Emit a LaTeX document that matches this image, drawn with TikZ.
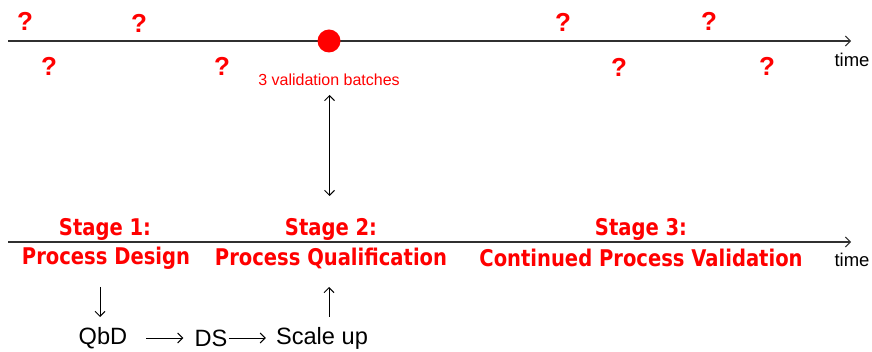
\documentclass[tikz,border=0pt]{standalone}
\usepackage{fontspec}
\setmainfont{Liberation Sans}
\newfontfamily\stagefont{DejaVu Sans}[FakeStretch=0.85]
\usetikzlibrary{arrows.meta}
\definecolor{axisgray}{HTML}{303030}
\tikzset{
  barb/.tip={Straight Barb[length=5pt,width=10pt,line width=1pt]},
  axis/.style={draw=axisgray, line width=1.4pt, -barb},
  flow/.style={draw=black, line width=1pt, -barb},
  unknown/.style={text=red, font=\fontsize{26}{26}\selectfont\bfseries, inner sep=0pt},
  stagelabel/.style={text=red, font=\stagefont\fontsize{23}{23}\selectfont\bfseries, inner sep=0pt},
  plain/.style={font=\fontsize{23.6}{24}\selectfont, inner sep=0pt},
  timelabel/.style={font=\fontsize{18.5}{19}\selectfont, inner sep=0pt},
}
\begin{document}
\begin{tikzpicture}[x=1pt,y=-1pt]
\useasboundingbox (0,0) rectangle (872,352);

% upper timeline with unknown sampling points
\coordinate (t0) at (8,41);
\coordinate (t1) at (851,41);
\draw[axis] (t0) -- (t1);
\node[timelabel] (time1) at (852,60) {time};
\fill[red] (329,41) circle (11.5) coordinate (batch);
\node[text=red, font=\fontsize{16}{16}\selectfont, inner sep=0pt] (batches) at (329,80) {3 validation batches};

\node[unknown] (q1) at (25,21) {?};
\node[unknown] (q2) at (139,23) {?};
\node[unknown] (q3) at (49,66) {?};
\node[unknown] (q4) at (222,66) {?};
\node[unknown] (q5) at (563,22) {?};
\node[unknown] (q6) at (709,21) {?};
\node[unknown] (q7) at (619,67) {?};
\node[unknown] (q8) at (767,66) {?};

% lower timeline with the three stages
\coordinate (s0) at (8,242);
\coordinate (s1) at (851,242);
\draw[axis] (s0) -- (s1);
\node[timelabel] (time2) at (852,260) {time};

\node[stagelabel] (st1) at (105,229) {Stage 1:};
\node[stagelabel] (pd) at (106,258) {Process Design};
\node[stagelabel] (st2) at (331,229) {Stage 2:};
\node[stagelabel] (pq) at (331,258) {Process Qualification};
\node[stagelabel] (st3) at (641,229) {Stage 3:};
\node[stagelabel] (cpv) at (641,258) {Continued Process Validation};

% link between the batches and stage 2
\coordinate (lnkA) at (329.5,95);
\coordinate (lnkB) at (329.5,196);
\draw[flow, barb-barb] (lnkA) -- (lnkB);

% development chain
\node[plain] (qbd) at (103,338) {QbD};
\node[plain] (ds) at (211,338) {DS};
\node[plain] (scale) at (322,338) {Scale up};
\coordinate (dnA) at (100,287);
\coordinate (dnB) at (100,317);
\coordinate (upA) at (329,317);
\coordinate (upB) at (329,287);
\draw[flow] (dnA) -- (dnB);
\draw[flow] (upA) -- (upB);
\draw[flow] ([xshift=19pt]qbd.east) -- ([xshift=-11pt]ds.west);
\draw[flow] ([xshift=1pt]ds.east) -- ([xshift=-10pt]scale.west);
\end{tikzpicture}
\end{document}
